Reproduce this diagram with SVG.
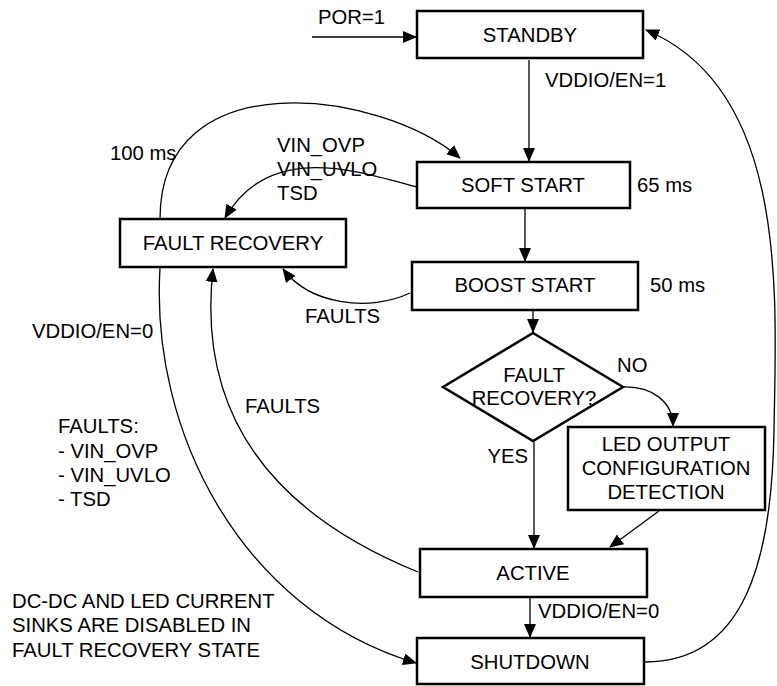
<svg xmlns="http://www.w3.org/2000/svg" width="777" height="686" viewBox="0 0 777 686">
<style>
.box{fill:#fff;stroke:#000;stroke-width:2.5}
.c{fill:none;stroke:#000;stroke-width:1.3}
text{font-family:"Liberation Sans",Arial,sans-serif;font-size:20.3px;fill:#000}
.m{text-anchor:middle}
</style>
<defs>
<marker id="a" markerUnits="userSpaceOnUse" markerWidth="14" markerHeight="12" viewBox="0 0 14 12" refX="13" refY="6" orient="auto">
<path d="M0,0 L14,6 L0,12 Z" fill="#000"/>
</marker>
</defs>
<g id="connectors">
<path class="c" d="M312,37 L416,37" marker-end="url(#a)"/>
<path class="c" d="M529,60 L529,161" marker-end="url(#a)"/>
<path class="c" d="M525,208 L525,261" marker-end="url(#a)"/>
<path class="c" d="M533,311 L533,332" marker-end="url(#a)"/>
<path class="c" d="M534,441 L534,548" marker-end="url(#a)"/>
<path class="c" d="M659,511 L610,547" marker-end="url(#a)"/>
<path class="c" d="M530,597 L530,637" marker-end="url(#a)"/>
<path class="c" d="M623,387 C652,386 673,402 673,426" marker-end="url(#a)"/>
<path class="c" d="M417,187 C360,172 270,140 225,218" marker-end="url(#a)"/>
<path class="c" d="M160,219 C160,60 380,90 460,158" marker-end="url(#a)"/>
<path class="c" d="M410,293 C370,312 310,305 283,269" marker-end="url(#a)"/>
<path class="c" d="M418,572 C290,520 195,430 213,269" marker-end="url(#a)"/>
<path class="c" d="M160,268 C150,430 240,610 416,663" marker-end="url(#a)"/>
<path class="c" d="M645,662 C745,662 772,560 774,430 C776,300 790,90 646,30" marker-end="url(#a)"/>
</g>
<g id="standby"><rect class="box" x="417" y="11" width="226" height="47"/><text class="m" x="530" y="42">STANDBY</text></g>
<g id="softstart"><rect class="box" x="417" y="162" width="213" height="46"/><text class="m" x="523" y="192">SOFT START</text></g>
<g id="faultrecovery"><rect class="box" x="120" y="219" width="226" height="48"/><text class="m" x="233" y="250">FAULT RECOVERY</text></g>
<g id="booststart"><rect class="box" x="412" y="262" width="226" height="48"/><text class="m" x="525" y="292">BOOST START</text></g>
<g id="decision"><path class="box" d="M533,333 L623,387 L533,441 L443,387 Z"/><text class="m" x="534" y="382">FAULT</text><text class="m" x="534" y="405">RECOVERY?</text></g>
<g id="detection"><rect class="box" x="568" y="427" width="197" height="83"/><text class="m" x="666" y="451">LED OUTPUT</text><text class="m" x="666" y="475">CONFIGURATION</text><text class="m" x="666" y="499">DETECTION</text></g>
<g id="active"><rect class="box" x="420" y="549" width="227" height="48"/><text class="m" x="533" y="580">ACTIVE</text></g>
<g id="shutdown"><rect class="box" x="417" y="638" width="227" height="46"/><text class="m" x="530" y="669">SHUTDOWN</text></g>
<g id="labels">
<text x="318" y="24">POR=1</text>
<text x="545" y="87">VDDIO/EN=1</text>
<text x="110" y="160">100 ms</text>
<text x="277" y="152">VIN_OVP</text>
<text x="277" y="176">VIN_UVLO</text>
<text x="277" y="200">TSD</text>
<text x="637" y="192">65 ms</text>
<text x="650" y="292">50 ms</text>
<text x="305" y="323">FAULTS</text>
<text x="32" y="338">VDDIO/EN=0</text>
<text x="617" y="372">NO</text>
<text x="245" y="413">FAULTS</text>
<text x="528" y="463" text-anchor="end">YES</text>
<text x="58" y="433">FAULTS:</text>
<text x="58" y="458">- VIN_OVP</text>
<text x="58" y="482">- VIN_UVLO</text>
<text x="58" y="506">- TSD</text>
<text x="538" y="618">VDDIO/EN=0</text>
<text x="12" y="608">DC-DC AND LED CURRENT</text>
<text x="12" y="632">SINKS ARE DISABLED IN</text>
<text x="12" y="657">FAULT RECOVERY STATE</text>
</g>
</svg>
